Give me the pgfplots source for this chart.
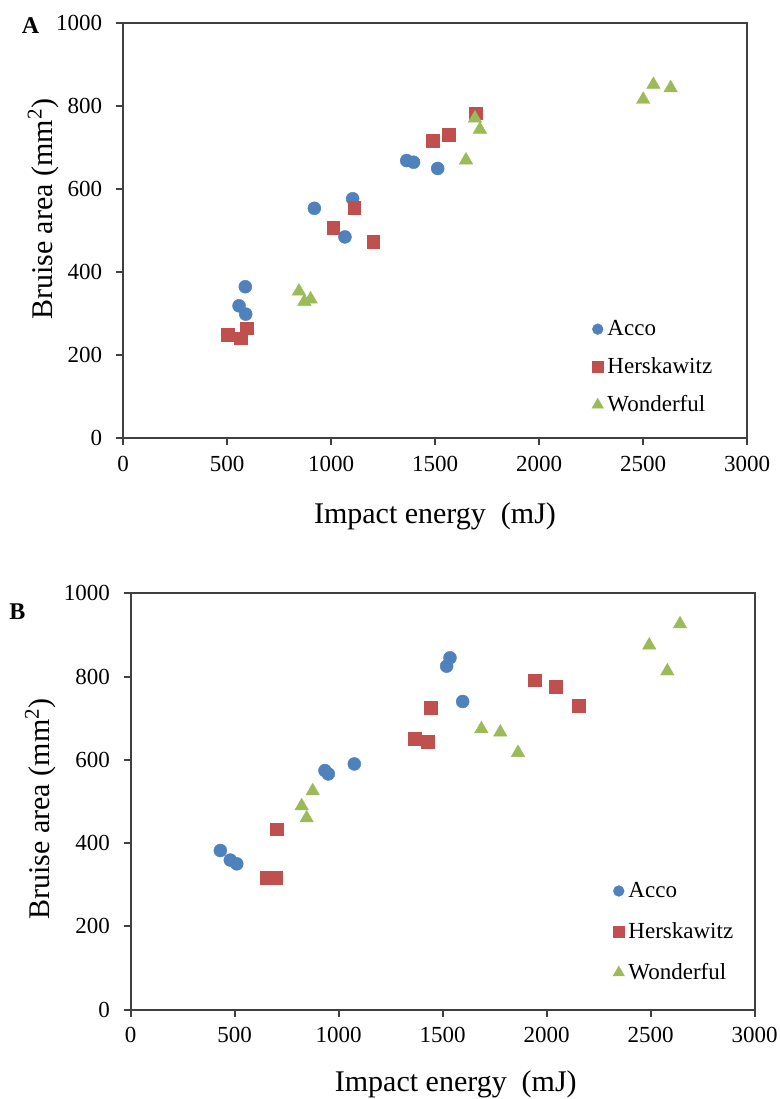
\documentclass[border=0pt]{standalone}
\usepackage{fontspec}
\setmainfont{Liberation Serif}
\usepackage{pgfplots}
\pgfplotsset{compat=1.18}

\definecolor{acco}{HTML}{4F81BD}
\definecolor{hersk}{HTML}{C0504D}
\definecolor{wond}{HTML}{9BBB59}
\definecolor{axgray}{HTML}{404040}

\pgfplotsset{
  bruise/.style={
    scale only axis,
    width=312pt, height=207.5pt,
    xmin=0, xmax=3000, ymin=0, ymax=1000,
    xtick={0,500,...,3000}, ytick={0,200,...,1000},
    xtick pos=bottom, ytick pos=left,
    tick align=outside,
    major tick length=3.5pt,
    axis line style={axgray, line width=1pt},
    every tick/.style={axgray, line width=1pt},
    /pgf/number format/assume math mode=true,
    /pgf/number format/1000 sep={},
    tick label style={font=\fontsize{11.5}{13}\selectfont, black},
    yticklabel style={xshift=-3.4pt},
    xticklabel style={yshift=-2pt},
    label style={font=\fontsize{15}{17}\selectfont},
    legend cell align=left,
    legend style={draw=none, fill=none, inner sep=0pt, outer sep=0pt,
      font=\fontsize{11.5}{13}\selectfont, row sep=5.5pt},
    legend image code/.code={\draw[##1] plot coordinates {(0pt,0pt)};},
  },
  accomark/.style={only marks, mark=*, mark size=3.25pt,
    mark options={fill=acco, draw=acco, line width=0.2pt},
    legend image post style={mark size=2.7pt}},
  herskmark/.style={only marks, mark=square*, mark size=3.2pt,
    mark options={fill=hersk, draw=hersk, line width=0.2pt},
    legend image post style={mark size=2.7pt}},
  wondmark/.style={only marks, mark=triangle*, mark size=3.9pt,
    mark options={fill=wond, draw=wond, line width=0.2pt},
    legend image post style={mark size=3.3pt}},
}

\begin{document}
\begin{tikzpicture}
\useasboundingbox (0,0) rectangle (390pt,549.5pt);

% Panel A
\begin{axis}[bruise,
  at={(61.5pt,330.6pt)}, anchor=south west,
  xlabel={Impact energy\ \ (mJ)},
  ylabel={Bruise area (mm\textsuperscript{2})},
  x label style={at={(axis description cs:0.5,-0.206)}, anchor=base},
  y label style={at={(axis description cs:-0.128,0.551)}, anchor=center, rotate=0},
  legend style={at={(axis cs:2255,170)}, anchor=west},
]
\addplot+[accomark] coordinates {
  (588,364) (558,318) (590,298) (920,553) (1104,576) (1067,484)
  (1364,668) (1397,664) (1513,649)};
\addlegendentry{Acco}
\addplot+[herskmark] coordinates {
  (503,249) (566,240) (596,264) (1011,506) (1112,554) (1203,472)
  (1489,715) (1566,731) (1697,782)};
\addlegendentry{Herskawitz}
\addplot+[wondmark] coordinates {
  (846,353) (872,328) (902,334) (1649,669) (1692,770) (1716,743)
  (2501,815) (2550,851) (2633,843)};
\addlegendentry{Wonderful}
\end{axis}
\node[font=\fontsize{12}{14}\selectfont\bfseries] at (15.25pt,536.5pt) {A};

% Panel B
\begin{axis}[bruise,
  at={(65.35pt,44.75pt)}, anchor=south west,
  height=208.1pt,
  xlabel={Impact energy\ \ (mJ)},
  ylabel={Bruise area (mm\textsuperscript{2})},
  x label style={at={(axis description cs:0.521,-0.198)}, anchor=base},
  y label style={at={(axis description cs:-0.145,0.482)}, anchor=center, rotate=0},
  legend style={at={(axis cs:2319,186)}, anchor=west, row sep=7pt},
]
\addplot+[accomark] coordinates {
  (431,382) (479,359) (510,350) (934,574) (950,566) (1075,590)
  (1519,825) (1535,845) (1596,740)};
\addlegendentry{Acco}
\addplot+[herskmark] coordinates {
  (654,316) (697,316) (702,433) (1367,651) (1426,644) (1442,725)
  (1944,791) (2043,775) (2152,729)};
\addlegendentry{Herskawitz}
\addplot+[wondmark] coordinates {
  (822,489) (846,460) (875,525) (1686,674) (1777,666) (1862,617)
  (2493,875) (2580,813) (2641,926)};
\addlegendentry{Wonderful}
\end{axis}
\node[font=\fontsize{12}{14}\selectfont\bfseries] at (8.75pt,243.5pt) {B};
\end{tikzpicture}
\end{document}
